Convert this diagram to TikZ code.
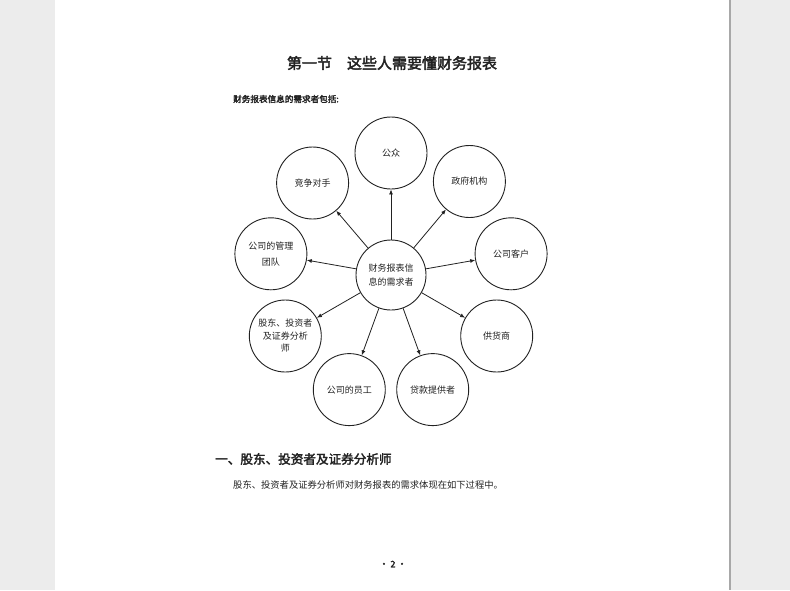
\documentclass[tikz,border=0pt]{standalone}
\usepackage{fontspec}
\usetikzlibrary{arrows.meta}
\newfontfamily\cjk{Noto Sans CJK SC}
\newfontfamily\cjkb[FakeBold=2.5]{Noto Sans CJK SC}
\definecolor{pagegray}{HTML}{ECECEC}
\definecolor{edgegray}{HTML}{A8A8A8}
\definecolor{ink}{HTML}{222222}
\tikzset{
  bubble/.style={circle, draw=ink, line width=0.9pt, minimum size=72pt, inner sep=0pt,
    align=center, text=ink, font=\cjk\fontsize{9}{13}\selectfont},
  hub/.style={bubble, minimum size=70pt, font=\cjk\fontsize{9}{14}\selectfont},
  arr/.style={draw=ink, line width=0.8pt, -{Latex[length=5pt,width=4pt]}},
  txt/.style={inner sep=0pt, text=ink, anchor=west}
}
\begin{document}
\begin{tikzpicture}[x=1pt,y=-1pt]
\useasboundingbox (0,0) rectangle (790,590);
\fill[pagegray] (0,0) rectangle (790,590);
\fill[white] (55,0) rectangle (729,590);
\fill[edgegray] (729,0) rectangle (731,590);

\node[inner sep=0pt, text=ink, font=\cjkb\fontsize{15}{15}\selectfont] (title) at (392,63) {第一节\hspace{1em}这些人需要懂财务报表};
\node[txt, font=\cjkb\fontsize{8.6}{10}\selectfont] (intro) at (233,99) {财务报表信息的需求者包括:};

\node[hub] (c) at (391,275) {财务报表信\\息的需求者};
\node[bubble] (n1) at (391,153) {公众};
\node[bubble] (n2) at (469.4,181.5) {政府机构};
\node[bubble] (n3) at (511.1,253.8) {公司客户};
\node[bubble] (n4) at (496.7,336) {供货商};
\node[bubble] (n5) at (432.7,389.6) {贷款提供者};
\node[bubble] (n6) at (349.3,389.6) {公司的员工};
\node[bubble, font=\cjk\fontsize{9}{12.5}\selectfont] (n7) at (285.3,336) {股东、投资者\\及证券分析\\师};
\node[bubble, font=\cjk\fontsize{9}{16}\selectfont] (n8) at (270.9,253.8) {公司的管理\\团队};
\node[bubble] (n9) at (312.6,183) {竞争对手};

\foreach \n in {n1,n2,n3,n4,n5,n6,n7,n8,n9} \draw[arr] (c) -- (\n);

\node[txt, font=\cjkb\fontsize{12.6}{14}\selectfont] (sec) at (215,459) {一、股东、投资者及证券分析师};
\node[txt, font=\cjk\fontsize{9.3}{11}\selectfont] (body) at (233,485) {股东、投资者及证券分析师对财务报表的需求体现在如下过程中。};
\node[inner sep=0pt, text=ink, font=\cjkb\fontsize{9}{10}\selectfont] (pg) at (393,564) {· 2 ·};
\end{tikzpicture}
\end{document}
